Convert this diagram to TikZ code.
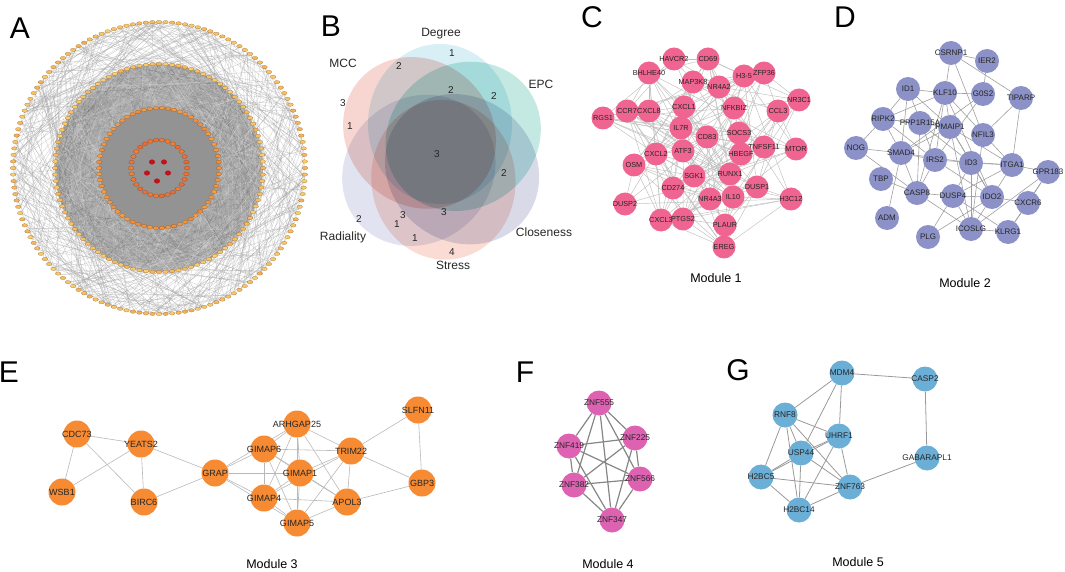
\documentclass[tikz,border=0pt]{standalone}
\usepackage{fontspec}
\setmainfont{Liberation Sans}
\pgfdeclarelayer{bg}
\pgfsetlayers{bg,main}
\definecolor{cpink}{RGB}{240,100,145}
\definecolor{dblue}{RGB}{140,146,200}
\definecolor{eorange}{RGB}{246,139,51}
\definecolor{fmag}{RGB}{222,98,178}
\definecolor{gblue}{RGB}{107,174,214}
\definecolor{ylw}{RGB}{250,208,110}
\definecolor{orgA}{RGB}{242,160,70}
\definecolor{orgB}{RGB}{240,130,50}
\definecolor{orgC}{RGB}{232,96,44}
\definecolor{redA}{RGB}{192,20,28}
\definecolor{vmcc}{RGB}{228,110,95}
\definecolor{vdeg}{RGB}{120,200,222}
\definecolor{vepc}{RGB}{50,180,160}
\definecolor{vclo}{RGB}{120,128,176}
\definecolor{vstr}{RGB}{238,135,112}
\definecolor{vrad}{RGB}{150,162,202}
\newcommand\zw[1]{\makebox[0pt][c]{#1}}
\tikzset{
  panel/.style={font=\fontsize{30}{30}\selectfont, inner sep=0pt},
  modlab/.style={font=\fontsize{12.5}{13}\selectfont, inner sep=0pt},
  vlab/.style={font=\fontsize{12}{13}\selectfont, inner sep=0pt, text=black!85},
  vnum/.style={font=\fontsize{10}{10}\selectfont, inner sep=0pt, text=black!85},
  hairA/.style={draw=gray!75, line width=0.3pt, opacity=0.55},
  hairB/.style={draw=gray!50!black, line width=0.3pt, opacity=0.15},
  cnode/.style={circle, fill=cpink, minimum size=23pt, inner sep=0pt, text=black!85, font=\fontsize{7.3}{7.3}\selectfont},
  dnode/.style={circle, fill=dblue, minimum size=24pt, inner sep=0pt, text=black!85, font=\fontsize{8}{8}\selectfont},
  enode/.style={circle, fill=eorange, minimum size=27pt, inner sep=0pt, text=black!85, font=\fontsize{9}{9}\selectfont},
  fnode/.style={circle, fill=fmag, minimum size=25pt, inner sep=0pt, text=black!85, font=\fontsize{8.3}{8.3}\selectfont},
  gnode/.style={circle, fill=gblue, minimum size=25pt, inner sep=0pt, text=black!85, font=\fontsize{8.3}{8.3}\selectfont},
  cedge/.style={draw=gray!50, line width=0.45pt},
  dedge/.style={draw=gray!75, line width=0.6pt},
  eedge/.style={draw=gray!55, line width=0.6pt},
  fedge/.style={draw=gray!95, line width=1.2pt},
  gedge/.style={draw=gray!80, line width=0.8pt}
}
\begin{document}
\begin{tikzpicture}[x=1pt,y=-1pt]
\useasboundingbox (0,0) rectangle (1065,572);

% ---------------- Panel A ----------------
\node[panel] (lA) at (20,28.5) {A};
\begin{scope}[shift={(159,168)}]
  \pgfmathsetseed{11}
  \foreach \k in {1,...,230}{
    \pgfmathsetmacro\aa{360*rnd}
    \pgfmathsetmacro\bb{\aa+30+110*rnd}
    \draw[hairA] (\aa:146) -- (\bb:146);
  }
  \foreach \k in {1,...,230}{
    \pgfmathsetmacro\aa{360*rnd}
    \pgfmathsetmacro\bb{\aa-70+140*rnd}
    \draw[hairA] (\aa:146) -- (\bb:104);
  }
  \fill[gray!64] (0,0) circle (104);
  \foreach \k in {1,...,350}{
    \pgfmathsetmacro\aa{360*rnd}
    \pgfmathsetmacro\bb{\aa+20+150*rnd}
    \draw[hairB] (\aa:104) -- (\bb:104);
  }
  \foreach \k in {1,...,250}{
    \pgfmathsetmacro\aa{360*rnd}
    \pgfmathsetmacro\bb{\aa+20+150*rnd}
    \draw[draw=white, line width=0.3pt, opacity=0.22] (\aa:104) -- (\bb:104);
  }
  \fill[gray!85] (0,0) circle (60);
  \foreach \k in {1,...,140}{
    \pgfmathtruncatemacro\mx{30+70*rnd}
    \pgfmathsetmacro\ang{\k/140*360}
    \filldraw[fill=ylw!\mx!orgA, draw=orgA!60!black, line width=0.15pt] (\ang:146) ellipse (2.8 and 1.7);
  }
  \foreach \k in {1,...,100}{
    \pgfmathtruncatemacro\mx{40+60*rnd}
    \pgfmathsetmacro\ang{\k/100*360}
    \filldraw[fill=ylw!\mx!orgA, draw=orgA!60!black, line width=0.15pt] (\ang:104) ellipse (2.8 and 1.7);
  }
  \foreach \k in {1,...,62}{
    \pgfmathtruncatemacro\mx{30+70*rnd}
    \pgfmathsetmacro\ang{\k/62*360}
    \filldraw[fill=orgA!\mx!orgB, draw=orgB!60!black, line width=0.15pt] (\ang:60) ellipse (2.8 and 1.8);
  }
  \foreach \k in {1,...,30}{
    \pgfmathtruncatemacro\mx{30+70*rnd}
    \pgfmathsetmacro\ang{\k/30*360}
    \filldraw[fill=orgB!\mx!orgC, draw=orgC!60!black, line width=0.15pt] (\ang:28) ellipse (2.8 and 1.9);
  }
\end{scope}
\foreach \px/\py in {152/162, 164/162, 147/173, 168/173, 157/181}{
  \fill[redA] (\px,\py) ellipse (3 and 2.6);
}

% ---------------- Panel B ----------------
\node[panel] (lB) at (331,26.5) {B};
\begin{scope}[shift={(440,152)}, blend group=multiply]
  \foreach \ang/\col in {-139/vrad, -38/vclo, -83/vstr, 137/vmcc, 90/vdeg, 34/vepc}{
    \begin{scope}[rotate=\ang]
      \fill[\col, opacity=0.29] (28,0) ellipse (80 and 72);
    \end{scope}
  }
\end{scope}
\node[vlab] (vDeg) at (441,34) {Degree};
\node[vlab] (vMCC) at (343,63) {MCC};
\node[vlab] (vEPC) at (541,84) {EPC};
\node[vlab] (vClo) at (544,232) {Closeness};
\node[vlab] (vStr) at (453,265) {Stress};
\node[vlab] (vRad) at (343,237) {Radiality};
\foreach \px/\py/\t [count=\i] in {452/53/1, 399/66/2, 343/103/3, 350/126/1, 451/90/2, 494/96/2, 437/154/3, 504/173/2, 403/215/3, 397/224/1, 444/212/3, 415/238/1, 359/219/2, 452/252/4}{
  \node[vnum] (vn\i) at (\px,\py) {\t};
}

% ---------------- Panel C ----------------
\node[panel] (lC) at (592,17) {C};
\def\Clist{674/59/HAVCR2, 708/59/CD69, 649/73/BHLHE40, 693/82/MAP3K8, 719/87/NR4A2, 744/76/H3-5, 764/73/ZFP36, 799/100/NR3C1, 603/118/RGS1, 627/111/CCR7, 649/111/CXCL8, 684/107/CXCL1, 734/108/NFKBIZ, 778/111/CCL3, 681/128/IL7R, 707/137/CD83, 739/133/SOCS3, 764/147/TNFSF11, 796/149/MTOR, 683/151/ATF3, 741/154/HBEGF, 656/154/CXCL2, 634/165/OSM, 694/176/SGK1, 730/174/RUNX1, 757/187/DUSP1, 673/188/CD274, 710/199/NR4A3, 733/197/IL10, 791/199/H3C12, 625/204/DUSP2, 661/220/CXCL3, 683/219/PTGS2, 725/225/PLAUR, 724/247/EREG}
\foreach \x/\y/\t [count=\i] in \Clist{
  \node[cnode] (c\i) at (\x,\y) {\zw{\t}};
}
\begin{pgfonlayer}{bg}
\pgfmathsetseed{5}
\foreach \xa/\ya/\ta [count=\i] in \Clist{
  \foreach \xb/\yb/\tb [count=\j] in \Clist{
    \ifnum\j>\i
      \pgfmathsetmacro\dd{veclen(\xa-\xb,\ya-\yb)}
      \pgfmathsetmacro\pp{0.2+0.6*exp(-(\dd/60)^2)}
      \pgfmathsetmacro\rr{rnd}
      \ifdim\rr pt<\pp pt \draw[cedge] (c\i) -- (c\j); \fi
    \fi
  }
}
\end{pgfonlayer}
\node[modlab] (m1) at (716,278) {Module 1};

% ---------------- Panel D ----------------
\node[panel] (lD) at (845,17) {D};
\def\Dlist{951/53/CSRNP1, 987/61/IER2, 908/89/ID1, 945/93/KLF10, 983/94/G0S2, 1021/98/TIPARP, 883/119/RIPK2, 920/123/PPP1R15A, 950/127/PMAIP1, 983/135/NFIL3, 856/148/NOG, 901/153/SMAD4, 935/160/IRS2, 971/163/ID3, 1012/165/ITGA1, 1048/172/GPR183, 881/179/TBP, 917/193/CASP8, 953/196/DUSP4, 992/197/IDO2, 1028/203/CXCR6, 887/218/ADM, 971/229/ICOSLG, 1008/232/KLRG1, 928/237/PLG}
\foreach \x/\y/\t [count=\i] in \Dlist{
  \node[dnode] (d\i) at (\x,\y) {\zw{\t}};
}
\begin{pgfonlayer}{bg}
\pgfmathsetseed{9}
\foreach \xa/\ya/\ta [count=\i] in \Dlist{
  \foreach \xb/\yb/\tb [count=\j] in \Dlist{
    \ifnum\j>\i
      \pgfmathsetmacro\dd{veclen(\xa-\xb,\ya-\yb)}
      \pgfmathsetmacro\pp{0.75*exp(-(\dd/75)^2)}
      \pgfmathsetmacro\rr{rnd}
      \ifdim\rr pt<\pp pt \draw[dedge] (d\i) -- (d\j); \fi
    \fi
  }
}
\end{pgfonlayer}
\node[modlab] (m2) at (965,283) {Module 2};

% ---------------- Panel E ----------------
\node[panel] (lE) at (9,372) {E};
\node[enode] (cdc) at (77,434) {\zw{CDC73}};
\node[enode] (yea) at (141,444) {\zw{YEATS2}};
\node[enode] (wsb) at (62,492) {\zw{WSB1}};
\node[enode] (bir) at (144,502) {\zw{BIRC6}};
\node[enode] (gra) at (215,473) {\zw{GRAP}};
\node[enode] (arh) at (297,424) {\zw{ARHGAP25}};
\node[enode] (g6) at (264,449) {\zw{GIMAP6}};
\node[enode] (g1) at (300,473) {\zw{GIMAP1}};
\node[enode] (g4) at (264,498) {\zw{GIMAP4}};
\node[enode] (g5) at (297,523) {\zw{GIMAP5}};
\node[enode] (tri) at (351,451) {\zw{TRIM22}};
\node[enode] (apo) at (347,502) {\zw{APOL3}};
\node[enode] (slf) at (418,410) {\zw{SLFN11}};
\node[enode] (gbp) at (422,483) {\zw{GBP3}};
\begin{pgfonlayer}{bg}
\foreach \a/\b in {cdc/yea, cdc/wsb, cdc/bir, yea/wsb, yea/bir, yea/gra, bir/gra, gra/g6, gra/g1, gra/g4, gra/g5, gra/arh,
  arh/g6, arh/g1, arh/g4, arh/g5, arh/tri, arh/apo, g6/g1, g6/g4, g6/g5, g6/tri, g6/apo, g1/g4, g1/g5, g1/tri, g1/apo,
  g4/g5, g4/tri, g4/apo, g5/tri, g5/apo, tri/apo, tri/slf, tri/gbp, slf/gbp, apo/gbp}{
  \draw[eedge] (\a) -- (\b);
}
\end{pgfonlayer}
\node[modlab] (m3) at (272,564) {Module 3};

% ---------------- Panel F ----------------
\node[panel] (lF) at (525,372) {F};
\node[fnode] (z555) at (599,403) {\zw{ZNF555}};
\node[fnode] (z419) at (569,446) {\zw{ZNF419}};
\node[fnode] (z225) at (635,438) {\zw{ZNF225}};
\node[fnode] (z382) at (574,485) {\zw{ZNF382}};
\node[fnode] (z566) at (640,479) {\zw{ZNF566}};
\node[fnode] (z347) at (612,520) {\zw{ZNF347}};
\begin{pgfonlayer}{bg}
\foreach \a/\b in {z555/z419, z555/z225, z555/z382, z555/z566, z555/z347, z419/z225, z419/z382, z419/z566, z419/z347,
  z225/z382, z225/z566, z225/z347, z382/z566, z382/z347, z566/z347}{
  \draw[fedge] (\a) -- (\b);
}
\end{pgfonlayer}
\node[modlab] (m4) at (608,564) {Module 4};

% ---------------- Panel G ----------------
\node[panel] (lG) at (738,370) {G};
\node[gnode] (mdm) at (842,373) {\zw{MDM4}};
\node[gnode] (cas) at (925,379) {\zw{CASP2}};
\node[gnode] (rnf) at (785,415) {\zw{RNF8}};
\node[gnode] (uhr) at (839,436) {\zw{UHRF1}};
\node[gnode] (usp) at (801,453) {\zw{USP44}};
\node[gnode] (gab) at (927,458) {\zw{GABARAPL1}};
\node[gnode] (h5) at (761,477) {\zw{H2BC5}};
\node[gnode] (znf) at (850,487) {\zw{ZNF763}};
\node[gnode] (h14) at (799,510) {\zw{H2BC14}};
\begin{pgfonlayer}{bg}
\foreach \a/\b in {mdm/cas, cas/gab, gab/znf, mdm/rnf, mdm/usp, mdm/uhr, rnf/uhr, rnf/usp, rnf/h5, rnf/h14, rnf/znf,
  uhr/usp, uhr/h5, uhr/h14, uhr/znf, usp/h5, usp/h14, usp/znf, h5/h14, h5/znf, h14/znf}{
  \draw[gedge] (\a) -- (\b);
}
\end{pgfonlayer}
\node[modlab] (m5) at (858,562) {Module 5};
\end{tikzpicture}
\end{document}
